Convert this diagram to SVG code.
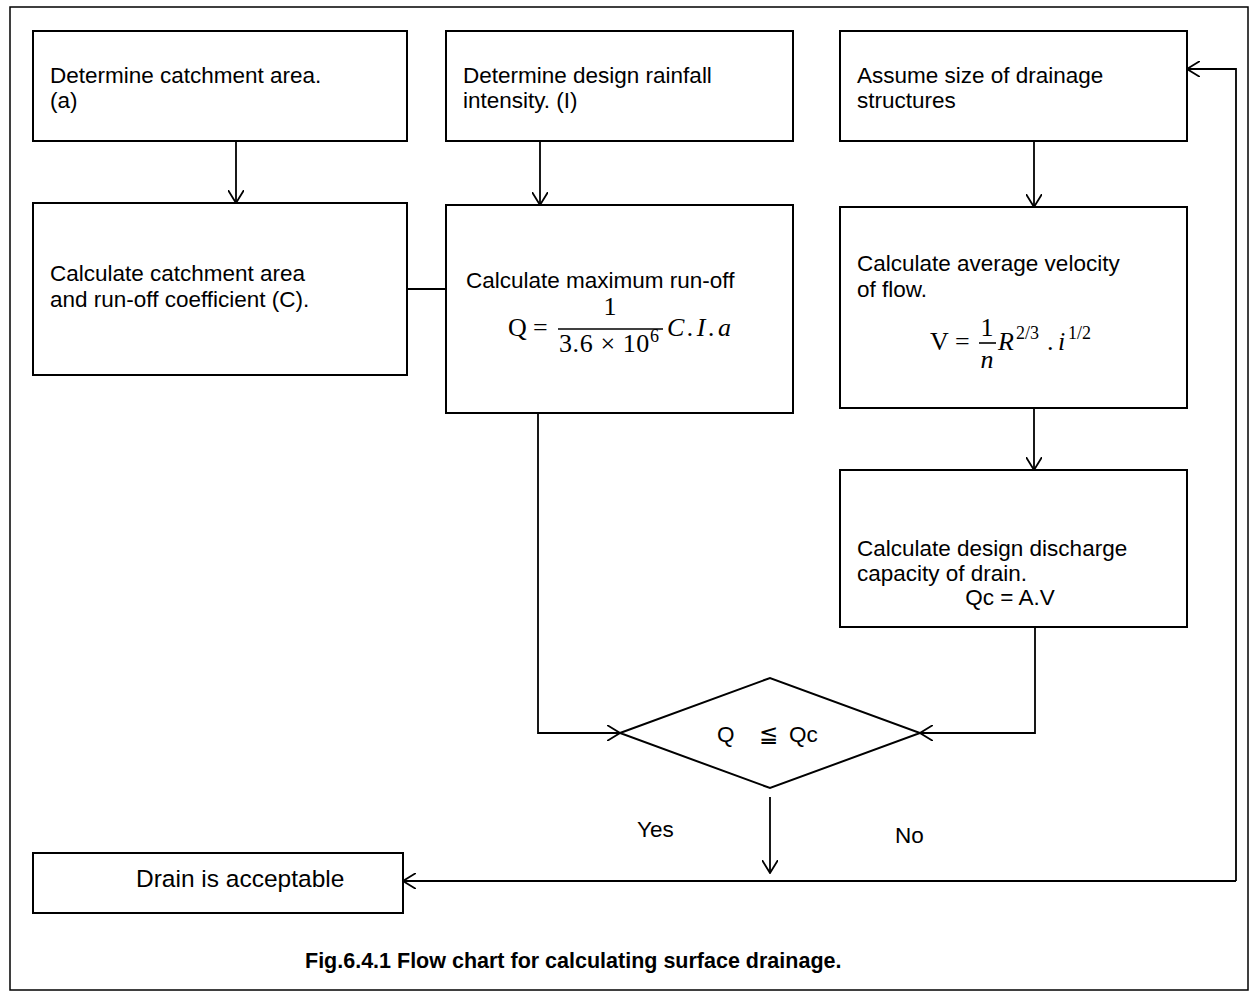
<svg xmlns="http://www.w3.org/2000/svg" width="1250" height="999" viewBox="0 0 1250 999">
  <style>
    .box { fill: #fff; stroke: #000; stroke-width: 2; }
    .frame { fill: none; stroke: #000; stroke-width: 1.5; }
    .lbl { font-family: "Liberation Sans", Arial, sans-serif; font-size: 22.5px; fill: #000; }
    .big { font-size: 24.5px; }
    .cap { font-family: "Liberation Sans", Arial, sans-serif; font-size: 21.5px; font-weight: bold; fill: #000; }
    .mth { font-family: "Liberation Serif", "DejaVu Serif", serif; font-size: 26px; fill: #000; }
    .it { font-style: italic; }
    .sup { font-size: 18px; }
    .wire { fill: none; stroke: #000; stroke-width: 1.8; }
    .arr { marker-end: url(#arrow); }
  </style>
  <defs>
    <marker id="arrow" viewBox="0 0 14 16" refX="13" refY="8" markerWidth="14" markerHeight="16" orient="auto" markerUnits="userSpaceOnUse">
      <path d="M0,0 L13,8 L0,16" fill="none" stroke="#000" stroke-width="1.8"/>
    </marker>
  </defs>

  <rect width="1250" height="999" fill="#fff"/>
  <rect class="frame" x="10" y="7" width="1238" height="983"/>

  <g id="connectors">
    <line class="wire arr" x1="236" y1="141" x2="236" y2="203"/>
    <line class="wire arr" x1="540" y1="141" x2="540" y2="205"/>
    <line class="wire arr" x1="1034" y1="141" x2="1034" y2="207"/>
    <line class="wire arr" x1="1034" y1="408" x2="1034" y2="470"/>
    <line class="wire" x1="407" y1="289" x2="446" y2="289"/>
    <polyline class="wire arr" points="538,413 538,733 620,733"/>
    <polyline class="wire arr" points="1035,627 1035,733 920,733"/>
    <line class="wire arr" x1="770" y1="797" x2="770" y2="873"/>
    <polyline class="wire arr" points="1236,881 403,881"/>
    <polyline class="wire arr" points="1236,881 1236,69 1187,69"/>
  </g>

  <g id="n-catchment">
    <rect class="box" x="33" y="31" width="374" height="110"/>
    <text class="lbl" x="50" y="83">Determine catchment area.</text>
    <text class="lbl" x="50" y="108">(a)</text>
  </g>

  <g id="n-rainfall">
    <rect class="box" x="446" y="31" width="347" height="110"/>
    <text class="lbl" x="463" y="83">Determine design rainfall</text>
    <text class="lbl" x="463" y="108">intensity. (I)</text>
  </g>

  <g id="n-assume">
    <rect class="box" x="840" y="31" width="347" height="110"/>
    <text class="lbl" x="857" y="83">Assume size of drainage</text>
    <text class="lbl" x="857" y="108">structures</text>
  </g>

  <g id="n-coefficient">
    <rect class="box" x="33" y="203" width="374" height="172"/>
    <text class="lbl" x="50" y="281">Calculate catchment area</text>
    <text class="lbl" x="50" y="307">and run-off coefficient (C).</text>
  </g>

  <g id="n-runoff">
    <rect class="box" x="446" y="205" width="347" height="208"/>
    <text class="lbl" x="466" y="288">Calculate maximum run-off</text>
    <text class="mth" x="508" y="336">Q</text>
    <text class="mth" x="533" y="336">=</text>
    <text class="mth" x="610" y="315" text-anchor="middle">1</text>
    <line x1="558" y1="329" x2="663" y2="329" stroke="#000" stroke-width="1.6"/>
    <text class="mth" x="559" y="352" letter-spacing="0.6">3.6 × 10<tspan class="sup" dy="-10">6</tspan></text>
    <text class="mth it" x="667" y="336" letter-spacing="3">C.I.a</text>
  </g>

  <g id="n-velocity">
    <rect class="box" x="840" y="207" width="347" height="201"/>
    <text class="lbl" x="857" y="271">Calculate average velocity</text>
    <text class="lbl" x="857" y="297">of flow.</text>
    <text class="mth" x="930" y="350">V</text>
    <text class="mth" x="955" y="350">=</text>
    <text class="mth" x="987" y="336" text-anchor="middle">1</text>
    <line x1="979" y1="343" x2="996" y2="343" stroke="#000" stroke-width="1.6"/>
    <text class="mth it" x="987" y="368" text-anchor="middle">n</text>
    <text class="mth it" x="998" y="350">R</text>
    <text class="mth sup" x="1016" y="339">2/3</text>
    <text class="mth" x="1047" y="350">.</text>
    <text class="mth it" x="1058" y="350">i</text>
    <text class="mth sup" x="1068" y="339">1/2</text>
  </g>

  <g id="n-capacity">
    <rect class="box" x="840" y="470" width="347" height="157"/>
    <text class="lbl" x="857" y="556">Calculate design discharge</text>
    <text class="lbl" x="857" y="581">capacity of drain.</text>
    <text class="lbl" x="1010" y="605" text-anchor="middle">Qc = A.V</text>
  </g>

  <g id="n-check">
    <polygon class="box" points="620,733 770,678 920,733 770,788"/>
    <text class="lbl" x="717" y="742" font-size="24">Q</text>
    <text class="lbl" x="768" y="742" font-size="24" text-anchor="middle">≦</text>
    <text class="lbl" x="789" y="742" font-size="24">Qc</text>
  </g>

  <g id="n-acceptable">
    <rect class="box" x="33" y="853" width="370" height="60"/>
    <text class="lbl big" x="136" y="887">Drain is acceptable</text>
  </g>

  <g id="branch-labels">
    <text class="lbl" x="637" y="837">Yes</text>
    <text class="lbl" x="895" y="843">No</text>
  </g>

  <text class="cap" x="305" y="968">Fig.6.4.1 Flow chart for calculating surface drainage.</text>
</svg>
